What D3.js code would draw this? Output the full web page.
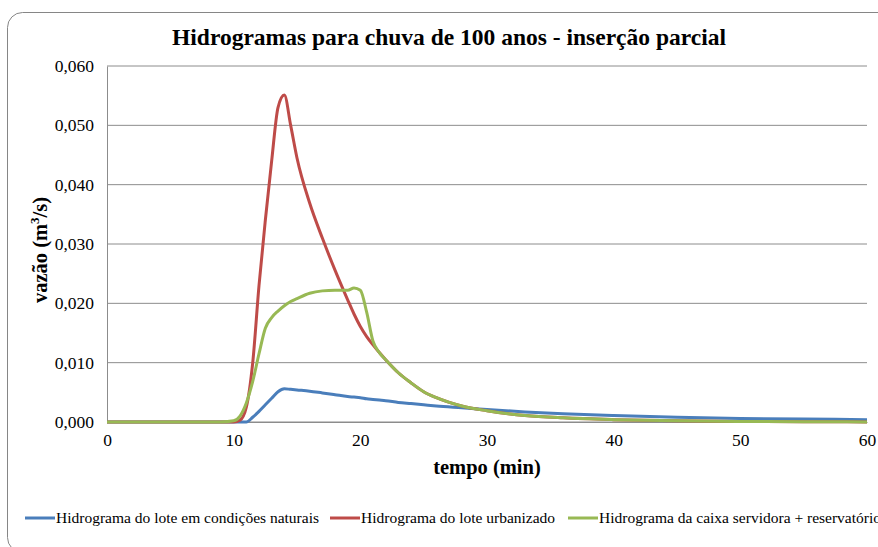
<!DOCTYPE html>
<html>
<head>
<meta charset="utf-8">
<script src="https://cdn.jsdelivr.net/npm/d3@7"></script>
</head>
<body style="margin:0">
<div id="chart"></div>
<script>
// tempo (min)
const times = [0, 5, 9, 10, 10.5, 11, 11.5, 12, 12.5, 13, 13.5, 14, 14.5, 15, 16, 17, 18, 19, 19.5, 20, 20.5, 21, 21.5, 22, 23, 24, 25, 26, 28, 30, 33, 36, 40, 45, 50, 55, 60];

// vazão (m³/s)
const natural = [0, 0, 0, 0, 0, 0, 0.0008, 0.0018, 0.0029, 0.0040, 0.0051, 0.0056, 0.0055, 0.0054, 0.0052, 0.0049, 0.0046, 0.0043, 0.0042, 0.0041, 0.0039, 0.0038, 0.0037, 0.0036, 0.0033, 0.0031, 0.0029, 0.0027, 0.0024, 0.0021, 0.0017, 0.0014, 0.0011, 0.0008, 0.0006, 0.0005, 0.0004];
const urbanizado = [0, 0, 0, 0, 0.0003, 0.0025, 0.0099, 0.0230, 0.0340, 0.0440, 0.0530, 0.0551, 0.0500, 0.0445, 0.0369, 0.0310, 0.0256, 0.0206, 0.0182, 0.0161, 0.0144, 0.0130, 0.0117, 0.0105, 0.0083, 0.0066, 0.0051, 0.0041, 0.0027, 0.0019, 0.0011, 0.0007, 0.0004, 0.0002, 0.0001, 0.00005, 0.00002];
const caixa = [0, 0, 0, 0.0002, 0.0010, 0.0032, 0.0068, 0.0115, 0.0158, 0.0176, 0.0187, 0.0196, 0.0203, 0.0208, 0.0217, 0.0221, 0.0222, 0.0222, 0.0226, 0.0222, 0.0185, 0.0136, 0.0117, 0.0105, 0.0083, 0.0066, 0.0051, 0.0041, 0.0027, 0.0019, 0.0011, 0.0007, 0.0004, 0.0002, 0.0001, 0.00005, 0.00002];

const xTicks = [0, 10, 20, 30, 40, 50, 60];
const yTicks = [0, 0.01, 0.02, 0.03, 0.04, 0.05, 0.06];

const seriesList = [
    { name: "Hidrograma do lote em condições naturais", values: natural, color: "#4a7ebb" },
    { name: "Hidrograma do lote urbanizado", values: urbanizado, color: "#be4b48" },
    { name: "Hidrograma da caixa servidora + reservatório", values: caixa, color: "#98b954" }
];

const FONT = "Liberation Serif";

const width = 878;
const height = 547;
const margin = { top: 66, right: 11, bottom: 125, left: 107 };

const svg = d3.select("#chart")
    .append("svg")
    .attr("width", width)
    .attr("height", height);

// chart frame
svg.append("rect")
    .attr("x", 7.5)
    .attr("y", 12.5)
    .attr("width", 900)
    .attr("height", 540)
    .attr("rx", 15)
    .attr("fill", "#fff")
    .attr("stroke", "#868686")
    .attr("stroke-width", 1);

const x = d3.scaleLinear()
    .domain([0, 60])
    .range([margin.left, width - margin.right]);

const y = d3.scaleLinear()
    .domain([0, 0.06])
    .range([height - margin.bottom, margin.top]);

// gridlines
svg.append("g")
    .selectAll("line")
    .data(yTicks)
    .enter().append("line")
    .attr("x1", x(0))
    .attr("x2", x(60))
    .attr("y1", d => y(d))
    .attr("y2", d => y(d))
    .attr("stroke", "#8c8c8c")
    .attr("stroke-width", 1);

// left axis
const yAxis = svg.append("g")
    .attr("transform", `translate(${x(0)},0)`)
    .call(d3.axisLeft(y).tickValues(yTicks).tickSize(0).tickPadding(13)
        .tickFormat(d => d3.format(".3f")(d).replace(".", ",")));
yAxis.attr("font-family", null).attr("font-size", null);
yAxis.select(".domain").attr("stroke", "#8c8c8c");
yAxis.selectAll("text")
    .attr("font-family", FONT)
    .attr("font-size", 17.5)
    .attr("fill", "#000");

// bottom axis
const xAxis = svg.append("g")
    .attr("transform", `translate(0,${y(0)})`)
    .call(d3.axisBottom(x).tickValues(xTicks).tickSize(0).tickPadding(12));
xAxis.attr("font-family", null).attr("font-size", null);
xAxis.select(".domain").attr("stroke", "#8c8c8c");
xAxis.selectAll("text")
    .attr("font-family", FONT)
    .attr("font-size", 17.5)
    .attr("fill", "#000");

const line = d3.line()
    .x((d, i) => x(times[i]))
    .y(d => y(d))
    .curve(d3.curveMonotoneX);

svg.append("g")
    .selectAll("path")
    .data(seriesList)
    .enter().append("path")
    .attr("d", d => line(d.values))
    .attr("fill", "none")
    .attr("stroke", d => d.color)
    .attr("stroke-width", 3)
    .attr("stroke-linejoin", "round");

// title
svg.append("text")
    .attr("x", 449)
    .attr("y", 45)
    .attr("text-anchor", "middle")
    .attr("font-family", FONT)
    .attr("font-weight", "bold")
    .attr("font-size", 23.5)
    .text("Hidrogramas para chuva de 100 anos - inserção parcial");

// axis titles
svg.append("text")
    .attr("x", 487)
    .attr("y", 474)
    .attr("text-anchor", "middle")
    .attr("font-family", FONT)
    .attr("font-weight", "bold")
    .attr("font-size", 20.5)
    .text("tempo (min)");

const yTitle = svg.append("text")
    .attr("transform", `translate(47,250) rotate(-90)`)
    .attr("text-anchor", "middle")
    .attr("font-family", FONT)
    .attr("font-weight", "bold")
    .attr("font-size", 20.5);
yTitle.append("tspan").text("vazão (m");
yTitle.append("tspan").attr("font-size", 13).attr("dy", -8).text("3");
yTitle.append("tspan").attr("dy", 8).text("/s)");

// legend
const legendX = [25, 330, 568];
const legend = svg.append("g")
    .selectAll("g")
    .data(seriesList)
    .enter().append("g")
    .attr("transform", (d, i) => `translate(${legendX[i]},518)`);
legend.append("line")
    .attr("x1", 0)
    .attr("x2", 30)
    .attr("stroke", d => d.color)
    .attr("stroke-width", 3);
legend.append("text")
    .attr("x", 31)
    .attr("dy", "0.35em")
    .attr("font-family", FONT)
    .attr("font-size", 15.5)
    .text(d => d.name);
</script>
</body>
</html>
